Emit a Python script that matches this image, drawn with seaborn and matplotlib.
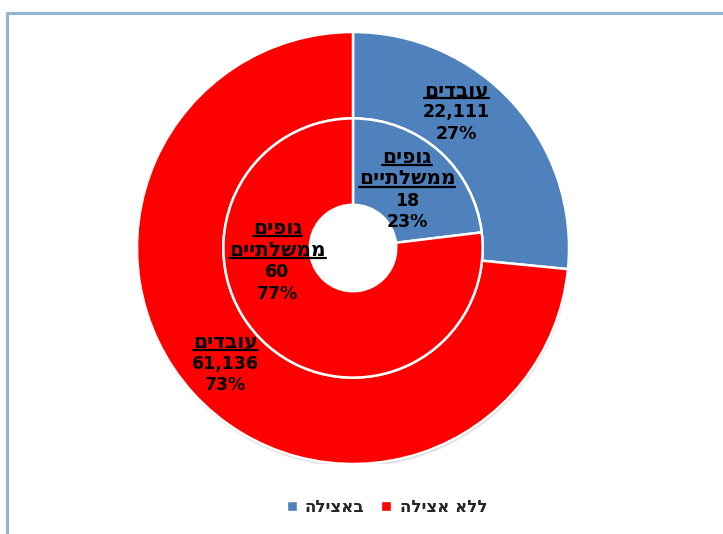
import matplotlib
matplotlib.use('Agg')
import matplotlib.pyplot as plt
import seaborn as sns
from matplotlib.patches import Rectangle, Wedge
from matplotlib.lines import Line2D

# data
series = ['באצילה', 'ללא אצילה']
outer_name = ['עובדים']
inner_name = ['גופים', 'ממשלתיים']
outer_values = [22111, 61136]
inner_values = [18, 60]
colors = ['#4F81BD', '#FF0000']

# label block centres (data units, pie radius = 1)
outer_label_pos = [(0.48, 0.63), (-0.59, -0.535)]
inner_label_pos = [(0.25, 0.27), (-0.35, -0.06)]


def rtl(s):
    # matplotlib has no bidi support, so flip Hebrew by hand
    return s[::-1]


sns.set_theme(style='white')
plt.rcParams['font.family'] = ['DejaVu Sans']

fig = plt.figure(figsize=(7.23, 5.34), dpi=100)
ax = fig.add_axes([137 / 723, 70 / 534, 432 / 723, 432 / 534])

# soft shadow under the outer ring
for off, a in [(0.016, 0.10), (0.011, 0.15), (0.007, 0.2)]:
    ax.add_patch(Wedge((0.003, -off), 1.0, 0, 360, width=0.4,
                       facecolor='#808080', alpha=a, lw=0, zorder=0))

ax.pie(outer_values, radius=1.0, colors=colors, startangle=90, counterclock=False,
       wedgeprops=dict(width=0.4, edgecolor='white', linewidth=1.8))
ax.pie(inner_values, radius=0.6, colors=colors, startangle=90, counterclock=False,
       wedgeprops=dict(width=0.4, edgecolor='white', linewidth=1.8))
ax.set_xlim(-1, 1)
ax.set_ylim(-1, 1)
ax.set_aspect('equal')
ax.axis('off')

line_h = 15.7  # points between lines
fs = 12.5
name_texts = []


def add_block(pos, names, value, total):
    pct = f'{round(value / total * 100)}%'
    lines = [rtl(n) for n in names] + [f'{value:,}', pct]
    n = len(lines)
    for i, s in enumerate(lines):
        dy = ((n - 1) / 2 - i) * line_h
        is_name = i < len(names)
        t = ax.annotate(s, xy=pos, xytext=(0, dy), textcoords='offset points',
                        ha='center', va='center', fontsize=14.5 if is_name else fs,
                        fontweight='bold', color='black', zorder=5)
        if is_name:
            name_texts.append(t)


for pos, v in zip(outer_label_pos, outer_values):
    add_block(pos, outer_name, v, sum(outer_values))
for pos, v in zip(inner_label_pos, inner_values):
    add_block(pos, inner_name, v, sum(inner_values))

# underline the category names
fig.canvas.draw()
r = fig.canvas.get_renderer()
W, H = fig.bbox.width, fig.bbox.height
for t in name_texts:
    bb = t.get_window_extent(r)
    y = (bb.y0 + 1.5) / H
    fig.add_artist(Line2D([bb.x0 / W, bb.x1 / W], [y, y], color='black', lw=1.6, zorder=6))

# legend
handles = [Rectangle((0, 0), 1, 1, facecolor=c) for c in colors]
fig.legend(handles, [rtl(s) for s in series], loc='center', bbox_to_anchor=(0.535, 0.051),
           ncol=2, frameon=False, handlelength=0.6, handleheight=0.6, handletextpad=0.5,
           columnspacing=1.0, prop=dict(size=12, weight='bold'))

# chart area border (clipped by the image edge)
fig.add_artist(Rectangle((7 / 723, -0.1), 1.2, 1 - 13 / 534 + 0.1, transform=fig.transFigure,
                         fill=False, edgecolor='#94B6D6', lw=2.2))

fig.savefig('out.png', dpi=100)
